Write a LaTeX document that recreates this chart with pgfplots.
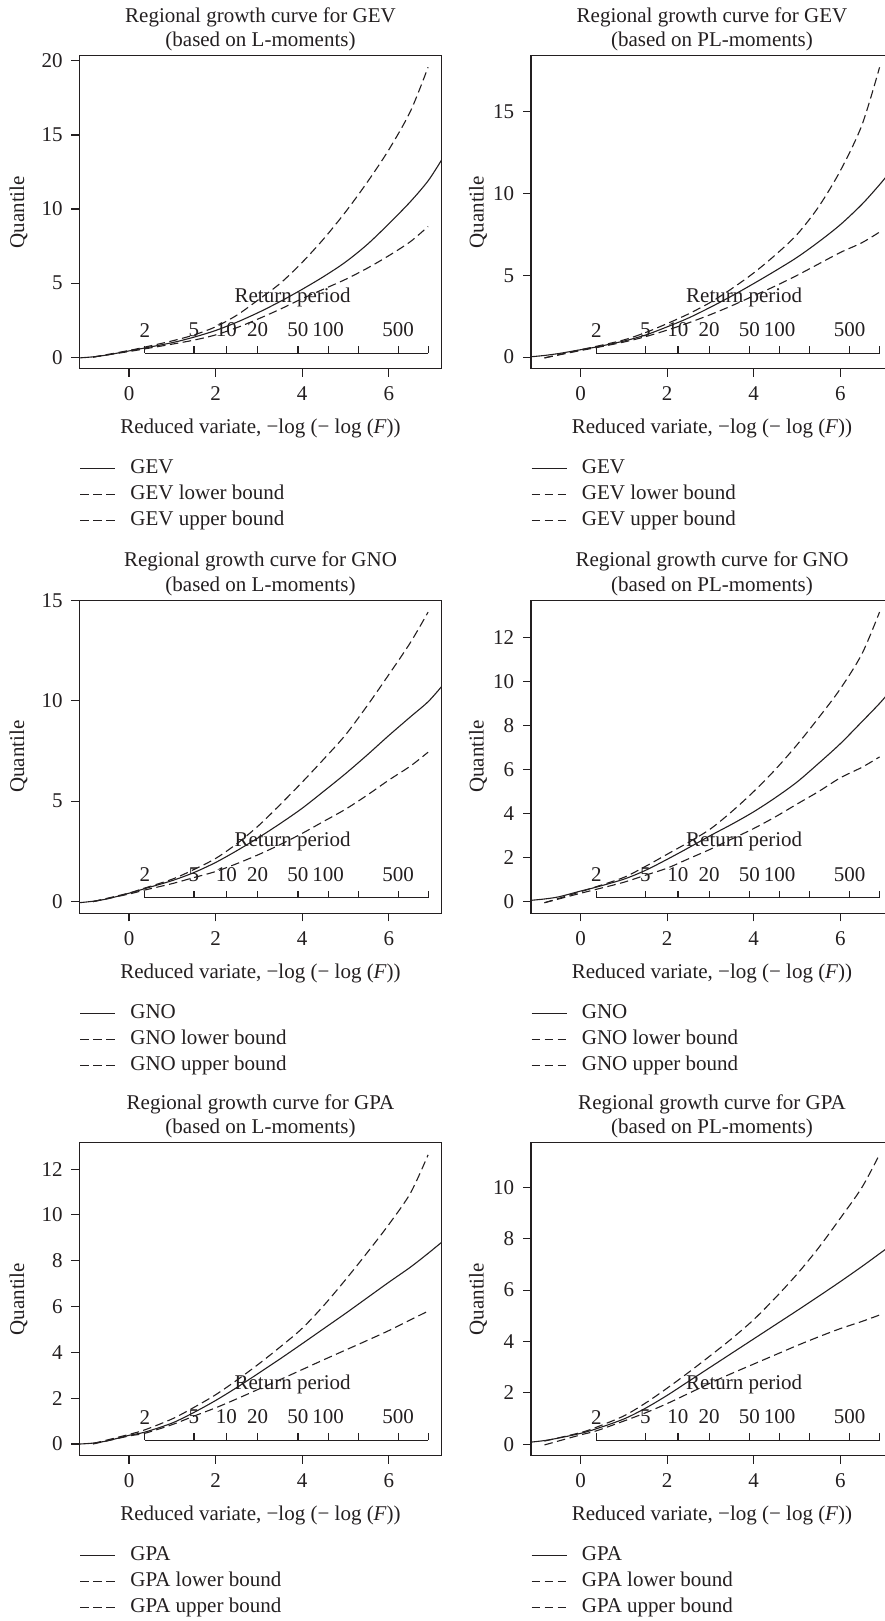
\documentclass[border=0pt]{standalone}
\usepackage{fontspec}
\setmainfont{Liberation Serif}
\usepackage{pgfplots}
\pgfplotsset{compat=1.18}
\definecolor{ink}{HTML}{231F20}
\newcommand{\rp}[2]{%
  \draw[ink, line width=0.55pt] ({axis cs:#1,0}|-{rel axis cs:0,0.05}) -- ++(0pt,3.5pt);
  \node[ink, inner sep=0pt, yshift=11.5pt] at ({axis cs:#1,0}|-{rel axis cs:0,0.05}) {#2};}
\newcommand{\rpaxis}{%
  \draw[ink, line width=0.55pt] ({axis cs:0.3665,0}|-{rel axis cs:0,0.05}) -- ({axis cs:6.9073,0}|-{rel axis cs:0,0.05});
  \rp{0.3665}{2}\rp{1.4999}{5}\rp{2.2504}{10}\rp{2.9702}{20}\rp{3.9019}{50}\rp{4.6002}{100}\rp{5.2958}{}\rp{6.2136}{500}\rp{6.9073}{}%
  \node[ink, inner sep=0pt, yshift=28pt] at ({axis cs:3.78,0}|-{rel axis cs:0,0.05}) {Return period};}
\pgfplotsset{
  rfa/.style={
    scale only axis, width=181pt, height=156.5pt,
    xmin=-1.144, xmax=7.217, xtick={0,2,4,6},
    axis line style={ink, line width=0.6pt},
    tick style={ink, line width=0.55pt},
    tick align=outside, major tick length=4pt,
    xtick pos=bottom, ytick pos=left,
    /pgf/number format/assume math mode=true,
    tick label style={ink, inner sep=0pt},
    yticklabel style={anchor=east, xshift=-4.25pt},
    xticklabel style={anchor=north, yshift=-4.95pt},
    title style={ink, align=center, at={(0.5,1)}, anchor=south, inner sep=0pt, yshift=-4pt},
    xlabel style={ink, at={(axis description cs:0.5,-0.192)}, anchor=center, inner sep=0pt},
    ylabel style={ink, anchor=center, inner sep=0pt},
    xlabel={Reduced variate, −log (− log (\textit{F}))},
    ylabel={Quantile},
    legend cell align=left,
    legend style={at={(0,0)}, anchor=north west, yshift=-43.5pt, draw=none, fill=none,
      inner sep=0pt, outer sep=0pt, row sep=0pt, column sep=0pt,
      nodes={inner sep=0pt, text height=9pt, text depth=3.95pt, text=ink}},
    legend image code/.code={\draw[#1] (0pt,0pt) -- (17.5pt,0pt); \path (24.9pt,0pt);},
  },
  col1/.style={ylabel style={at={(axis description cs:-0.1685,0.5)}}},
  col2/.style={ylabel style={at={(axis description cs:-0.1464,0.5)}}},
  sol/.style={ink, line width=0.55pt, smooth},
  dsh/.style={ink, line width=0.55pt, smooth, dash pattern=on 4.25pt off 2.25pt},
}
\begin{document}
\fontsize{10.5}{12.4}\selectfont
\begin{tikzpicture}
\useasboundingbox (0,0) rectangle (442pt,-810.5pt);
% ---------- GEV, L-moments
\begin{axis}[rfa, col1, at={(39.75pt,-27.85pt)}, anchor=north west,
  ymin=-0.78, ymax=20.35, ytick={0,5,10,15,20},
  title={Regional growth curve for GEV\\(based on L-moments)}]
\addplot[sol] coordinates {(-1.144,-0.05) (-0.834,0.02) (-0.5,0.15) (0,0.42) (0.367,0.62) (1,0.98) (1.5,1.35) (2,1.8) (2.5,2.37) (3,3.03) (3.5,3.77) (4,4.58) (4.5,5.45) (5,6.42) (5.5,7.6) (6,9.0) (6.5,10.5) (6.907,11.9) (7.217,13.3)};
\addplot[dsh] coordinates {(-0.834,0.0) (0,0.38) (0.367,0.56) (1,0.88) (1.5,1.15) (2,1.5) (2.5,2.0) (3,2.6) (3.5,3.25) (4,3.95) (4.5,4.6) (5,5.25) (5.5,6.0) (6,6.85) (6.5,7.8) (6.907,8.82)};
\addplot[dsh] coordinates {(-0.834,0.0) (0,0.45) (0.367,0.68) (1,1.1) (1.5,1.5) (2,2.05) (2.5,2.85) (3,3.9) (3.5,5.0) (4,6.4) (4.5,8.0) (5,9.8) (5.5,11.8) (6,14.0) (6.5,16.6) (6.907,19.57)};
\legend{GEV, GEV lower bound, GEV upper bound}
\rpaxis
\end{axis}
% ---------- GEV, PL-moments
\begin{axis}[rfa, col2, at={(265.5pt,-27.85pt)}, anchor=north west,
  ymin=-0.71, ymax=18.44, ytick={0,5,10,15},
  title={Regional growth curve for GEV\\(based on PL-moments)}]
\addplot[sol] coordinates {(-1.144,0.02) (-0.834,0.1) (-0.5,0.22) (0,0.45) (0.367,0.62) (1,0.98) (1.5,1.35) (2,1.85) (2.5,2.4) (3,3.05) (3.5,3.75) (4,4.5) (4.5,5.28) (5,6.1) (5.5,7.05) (6,8.1) (6.5,9.35) (6.907,10.55) (7.217,11.55)};
\addplot[dsh] coordinates {(-0.834,-0.05) (0,0.4) (0.367,0.58) (1,0.92) (1.5,1.25) (2,1.65) (2.5,2.1) (3,2.6) (3.5,3.15) (4,3.75) (4.5,4.35) (5,5.0) (5.5,5.7) (6,6.4) (6.5,7.0) (6.907,7.65)};
\addplot[dsh] coordinates {(-0.834,-0.05) (0,0.45) (0.367,0.66) (1,1.05) (1.5,1.5) (2,2.05) (2.5,2.65) (3,3.35) (3.5,4.2) (4,5.15) (4.5,6.25) (5,7.5) (5.5,9.2) (6,11.4) (6.5,14.2) (6.907,17.73)};
\legend{GEV, GEV lower bound, GEV upper bound}
\rpaxis
\end{axis}
% ---------- GNO, L-moments
\begin{axis}[rfa, col1, at={(39.75pt,-300.15pt)}, anchor=north west,
  ymin=-0.58, ymax=15.0, ytick={0,5,10,15},
  title={Regional growth curve for GNO\\(based on L-moments)}]
\addplot[sol] coordinates {(-1.144,-0.05) (-0.834,0.02) (-0.5,0.14) (0,0.42) (0.367,0.65) (1,1.05) (1.5,1.45) (2,1.95) (2.5,2.55) (3,3.2) (3.5,3.9) (4,4.65) (4.5,5.5) (5,6.37) (5.5,7.3) (6,8.27) (6.5,9.2) (6.907,9.95) (7.217,10.7)};
\addplot[dsh] coordinates {(-0.834,0.0) (0,0.38) (0.367,0.58) (1,0.9) (1.5,1.2) (2,1.5) (2.5,1.9) (3,2.35) (3.5,2.85) (4,3.4) (4.5,4.0) (5,4.6) (5.5,5.3) (6,6.05) (6.5,6.75) (6.907,7.44)};
\addplot[dsh] coordinates {(-0.834,0.0) (0,0.43) (0.367,0.68) (1,1.12) (1.5,1.6) (2,2.15) (2.5,2.9) (3,3.8) (3.5,4.85) (4,5.95) (4.5,7.1) (5,8.3) (5.5,9.75) (6,11.3) (6.5,12.9) (6.907,14.41)};
\legend{GNO, GNO lower bound, GNO upper bound}
\rpaxis
\end{axis}
% ---------- GNO, PL-moments
\begin{axis}[rfa, col2, at={(265.5pt,-300.15pt)}, anchor=north west,
  ymin=-0.53, ymax=13.68, ytick={0,2,4,6,8,10,12},
  title={Regional growth curve for GNO\\(based on PL-moments)}]
\addplot[sol] coordinates {(-1.144,0.06) (-0.834,0.12) (-0.5,0.22) (0,0.48) (0.367,0.66) (1,1.02) (1.5,1.42) (2,1.92) (2.5,2.45) (3,3.0) (3.5,3.52) (4,4.08) (4.5,4.72) (5,5.43) (5.5,6.28) (6,7.17) (6.5,8.17) (6.907,9.0) (7.217,9.7)};
\addplot[dsh] coordinates {(-0.834,-0.05) (0,0.38) (0.367,0.56) (1,0.88) (1.5,1.2) (2,1.52) (2.5,1.95) (3,2.38) (3.5,2.85) (4,3.32) (4.5,3.85) (5,4.43) (5.5,5.0) (6,5.62) (6.5,6.1) (6.907,6.57)};
\addplot[dsh] coordinates {(-0.834,-0.05) (0,0.45) (0.367,0.68) (1,1.1) (1.5,1.6) (2,2.15) (2.5,2.7) (3,3.3) (3.5,4.1) (4,5.0) (4.5,6.0) (5,7.12) (5.5,8.35) (6,9.66) (6.5,11.25) (6.907,13.15)};
\legend{GNO, GNO lower bound, GNO upper bound}
\rpaxis
\end{axis}
% ---------- GPA, L-moments
\begin{axis}[rfa, col1, at={(39.75pt,-571.35pt)}, anchor=north west,
  ymin=-0.51, ymax=13.15, ytick={0,2,4,6,8,10,12},
  title={Regional growth curve for GPA\\(based on L-moments)}]
\addplot[sol] coordinates {(-1.144,0.0) (-0.834,0.04) (-0.5,0.14) (0,0.38) (0.367,0.52) (1,0.92) (1.5,1.38) (2,1.9) (2.5,2.48) (3,3.1) (3.5,3.73) (4,4.38) (4.5,5.04) (5,5.7) (5.5,6.38) (6,7.06) (6.5,7.72) (6.907,8.32) (7.217,8.8)};
\addplot[dsh] coordinates {(-0.834,0.0) (0,0.35) (0.367,0.47) (1,0.85) (1.5,1.22) (2,1.58) (2.5,1.98) (3,2.4) (3.5,2.82) (4,3.25) (4.5,3.68) (5,4.1) (5.5,4.52) (6,4.95) (6.5,5.42) (6.907,5.8)};
\addplot[dsh] coordinates {(-0.834,0.02) (0,0.42) (0.367,0.62) (1,1.1) (1.5,1.6) (2,2.15) (2.5,2.8) (3,3.5) (3.5,4.25) (4,5.05) (4.5,6.05) (5,7.17) (5.5,8.35) (6,9.58) (6.5,10.95) (6.907,12.62)};
\legend{GPA, GPA lower bound, GPA upper bound}
\rpaxis
\end{axis}
% ---------- GPA, PL-moments
\begin{axis}[rfa, col2, at={(265.5pt,-571.35pt)}, anchor=north west,
  ymin=-0.45, ymax=11.74, ytick={0,2,4,6,8,10},
  title={Regional growth curve for GPA\\(based on PL-moments)}]
\addplot[sol] coordinates {(-1.144,0.08) (-0.834,0.14) (-0.5,0.24) (0,0.42) (0.367,0.6) (1,0.98) (1.5,1.4) (2,1.9) (2.5,2.45) (3,3.0) (3.5,3.55) (4,4.1) (4.5,4.65) (5,5.2) (5.5,5.76) (6,6.33) (6.5,6.92) (6.907,7.42) (7.217,7.8)};
\addplot[dsh] coordinates {(-0.834,-0.03) (0,0.36) (0.367,0.52) (1,0.9) (1.5,1.22) (2,1.58) (2.5,1.98) (3,2.38) (3.5,2.76) (4,3.12) (4.5,3.48) (5,3.84) (5.5,4.18) (6,4.5) (6.5,4.78) (6.907,5.03)};
\addplot[dsh] coordinates {(-0.834,0.12) (0,0.45) (0.367,0.66) (1,1.1) (1.5,1.6) (2,2.18) (2.5,2.8) (3,3.45) (3.5,4.12) (4,4.85) (4.5,5.7) (5,6.62) (5.5,7.65) (6,8.8) (6.5,10.0) (6.907,11.29)};
\legend{GPA, GPA lower bound, GPA upper bound}
\rpaxis
\end{axis}
\end{tikzpicture}
\end{document}
